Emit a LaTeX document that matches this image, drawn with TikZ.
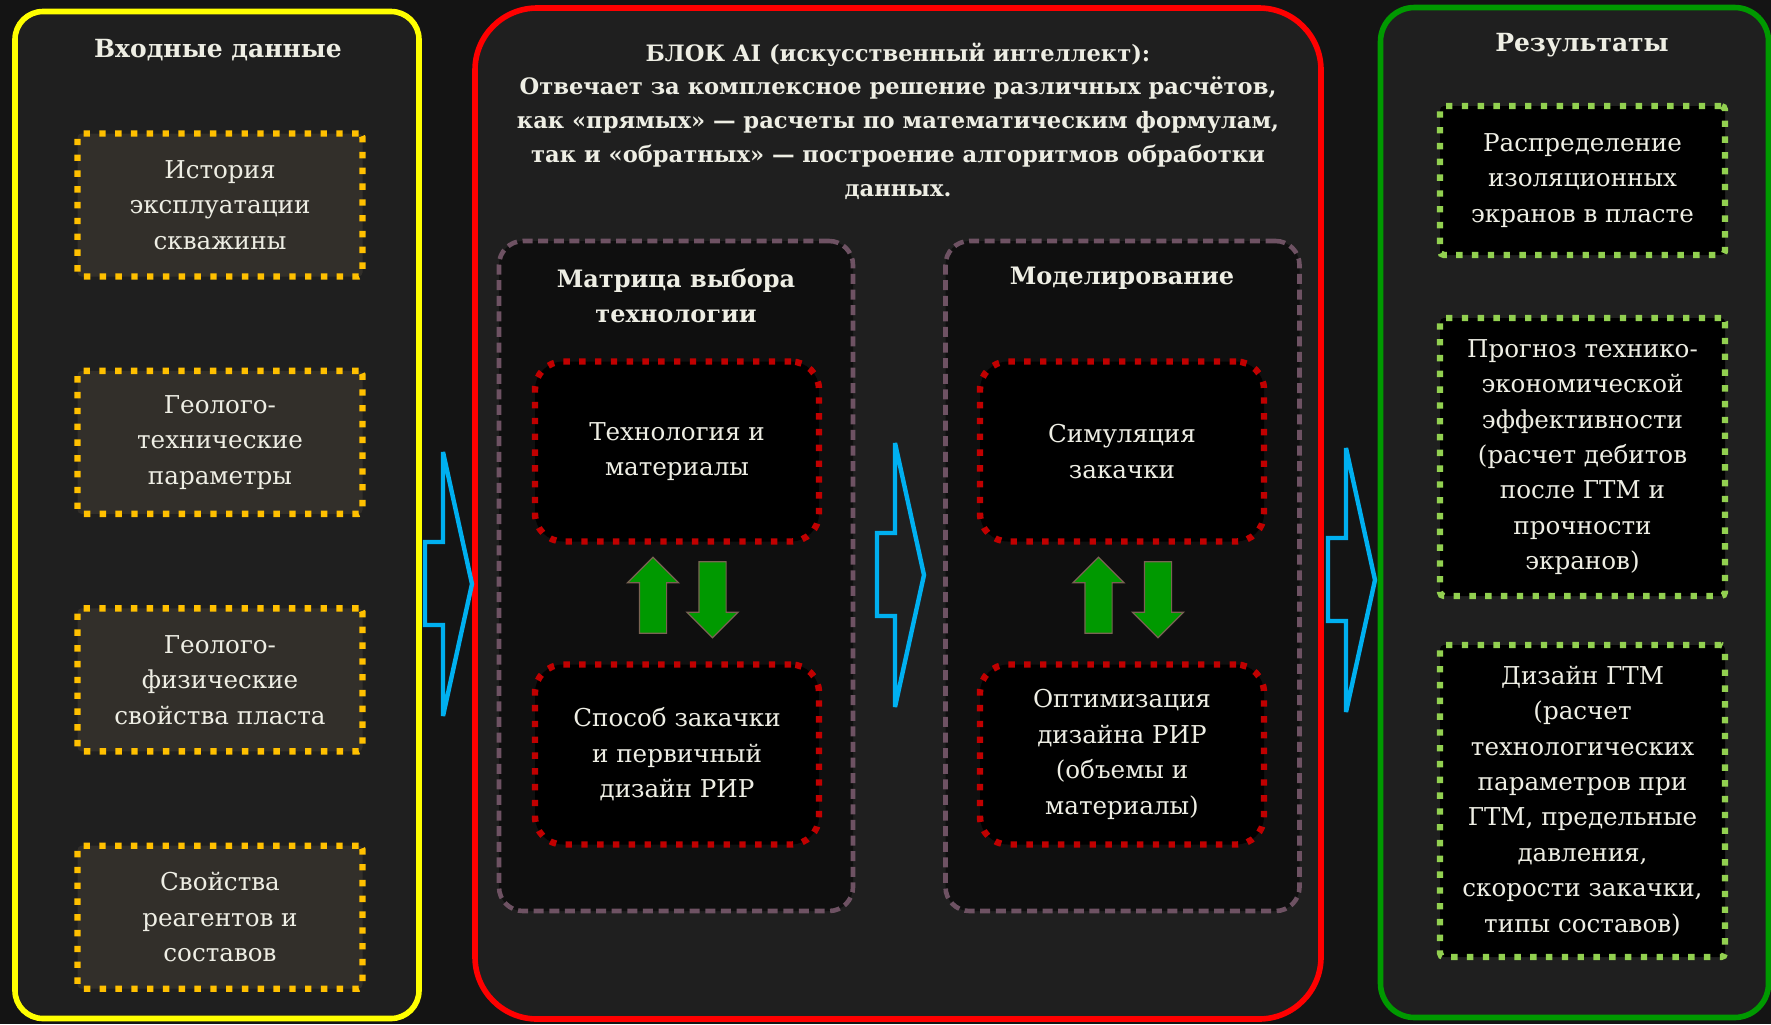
\documentclass[tikz,border=0pt]{standalone}
\usepackage{fontspec}
\setmainfont{DejaVu Serif}
\usetikzlibrary{positioning, shapes.arrows}
\definecolor{bgdark}{HTML}{141414}
\definecolor{panelbg}{HTML}{1F1F1F}
\definecolor{inyellow}{HTML}{FFFF00}
\definecolor{aired}{HTML}{FF0000}
\definecolor{outgreen}{HTML}{009900}
\definecolor{inorange}{HTML}{FFC000}
\definecolor{inboxbg}{HTML}{322F2A}
\definecolor{mauve}{HTML}{6E5263}
\definecolor{matbg}{HTML}{0F0F0F}
\definecolor{dotred}{HTML}{C00000}
\definecolor{dotgreen}{HTML}{92D050}
\definecolor{flowblue}{HTML}{00B0F0}
\definecolor{txtwhite}{HTML}{EEEEE4}
\definecolor{arrowedge}{HTML}{7A6353}
\tikzset{
	panel/.style={rounded corners=#1, line width=2.8pt, fill=panelbg},
	ptitle/.style={text=txtwhite, font=\fontsize{12.5}{17}\selectfont\bfseries, align=center},
	subtitle/.style={text=txtwhite, font=\fontsize{12}{17.5}\selectfont\bfseries, align=center},
	aihead/.style={text=txtwhite, font=\fontsize{11.3}{16.85}\selectfont\bfseries, align=center},
	dotbox/.style={line width=3.2pt, dash pattern=on 3.2pt off 4.7pt, text=txtwhite,
		align=center, font=\fontsize{12.3}{17.7}\selectfont, inner sep=0pt},
	inbox/.style={dotbox, draw=inorange, fill=inboxbg, rounded corners=2pt,
		minimum width=142.5pt, minimum height=71.5pt},
	aibox/.style={dotbox, draw=dotred, fill=black, rounded corners=14pt,
		minimum width=142pt, minimum height=90pt},
	resbox/.style={dotbox, draw=dotgreen, fill=black, rounded corners=2pt, minimum width=142.5pt},
	matbox/.style={draw=mauve, fill=matbg, line width=2.3pt, dash pattern=on 5pt off 2.8pt,
		rounded corners=12pt, minimum width=177pt, minimum height=335pt},
	garrow/.style={single arrow, draw=arrowedge, fill=outgreen, line width=0.6pt, inner sep=6.5pt,
		minimum height=38pt, single arrow head extend=6pt,
		single arrow head indent=0pt},
	uparr/.style={garrow, shape border rotate=90},
	downarr/.style={garrow, shape border rotate=270},
	flowline/.style={draw=flowblue, line width=2.2pt, miter limit=4},
	flowarrow/.pic={\draw[flowline] (-49,-42) -- (-31,-42) -- (-31,-132) -- (-2,0)
		-- (-31,132) -- (-31,41) -- (-49,41) -- cycle;}
}
\begin{document}
\begin{tikzpicture}[x=0.5pt, y=-0.5pt, node distance=44pt]
	\fill[bgdark] (0,0) rectangle (1771,1024);
	\useasboundingbox (0,0) rectangle (1771,1024);
	% panels
	\node[panel=14pt, draw=inyellow, minimum width=202pt, minimum height=503.5pt] (inp) at (217,515) {};
	\node[panel=31pt, draw=aired, minimum width=423pt, minimum height=505.5pt] (ai) at (898,513.5) {};
	\node[panel=17pt, draw=outgreen, minimum width=194pt, minimum height=505pt] (res) at (1574.5,512.5) {};
	\node[ptitle] (inptitle) at (218,50) {Входные данные};
	\node[ptitle] (restitle) at (1582,45) {Результаты};
	\node[aihead] (aititle) at (898,121) {БЛОК AI (искусственный интеллект):\\
		Отвечает за комплексное решение различных расчётов,\\
		как «прямых» — расчеты по математическим формулам,\\
		так и «обратных» — построение алгоритмов обработки\\
		данных.};

	% input data
	\node[inbox] (hist) at (220,205) {История\\эксплуатации\\скважины};
	\node[inbox, below=of hist] (geotech) {Геолого-\\технические\\параметры};
	\node[inbox, below=of geotech] (geophys) {Геолого-\\физические\\свойства пласта};
	\node[inbox, below=of geophys] (reag) {Свойства\\реагентов и\\составов};

	% AI block
	\node[matbox] (matrix) at (676,576) {};
	\node[matbox] (model) at (1122.5,576) {};
	\node[subtitle] (mattitle) at (676,295.5) {Матрица выбора\\технологии};
	\node[subtitle] (modtitle) at (1122,278) {Моделирование};
	\node[aibox] (tech) at (677,451.5) {Технология и\\материалы};
	\node[aibox] (inject) at (677,754.5) {Способ закачки\\и первичный\\дизайн РИР};
	\node[aibox] (sim) at (1122,451.5) {Симуляция\\закачки};
	\node[aibox] (optim) at (1122,754.5) {Оптимизация\\дизайна РИР\\(объемы и\\материалы)};
	\node[uparr] (techup) at (653,602) {};
	\node[downarr] (techdown) at (712.5,593) {};
	\node[uparr] (simup) at (1098.5,602) {};
	\node[downarr] (simdown) at (1158,593) {};

	% results
	\node[resbox, minimum height=74.5pt] (screens) at (1582.5,180.5) {Распределение\\изоляционных\\экранов в пласте};
	\node[resbox, minimum height=139pt] (forecast) at (1582.5,457) {Прогноз технико-\\экономической\\эффективности\\(расчет дебитов\\после ГТМ и\\прочности\\экранов)};
	\node[resbox, minimum height=156pt] (design) at (1582.5,801) {Дизайн ГТМ\\(расчет\\технологических\\параметров при\\ГТМ, предельные\\давления,\\скорости закачки,\\типы составов)};

	% flow between blocks
	\pic at (474,584) {flowarrow};
	\pic at (926,575) {flowarrow};
	\pic at (1377,580) {flowarrow};
\end{tikzpicture}
\end{document}
